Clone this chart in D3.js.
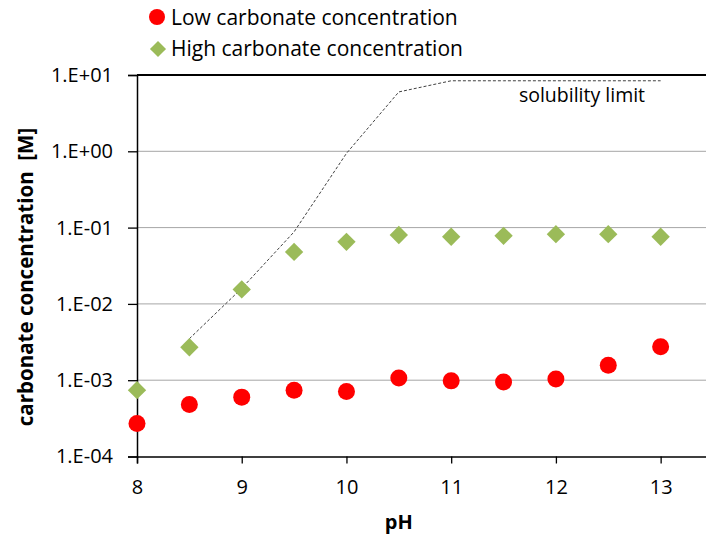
<!doctype html>
<html lang="en">
  <head>
    <meta charset="utf-8">
    <title>carbonate concentration vs pH</title>
    <script src="https://d3js.org/d3.v7.min.js"></script>
    <style>
      body { margin: 0; background: #fff; }
      svg { display: block; font-family: 'Open Sans', sans-serif; }
    </style>
  </head>
  <body>
    <div id="root"></div>
  </body>
  <script>

    //data:
    const pH = [8, 8.5, 9, 9.5, 10, 10.5, 11, 11.5, 12, 12.5, 13];
    const lowCarbonate = [2.7e-4, 4.8e-4, 6.0e-4, 7.4e-4, 7.1e-4, 1.07e-3, 9.8e-4, 9.5e-4, 1.04e-3, 1.57e-3, 2.75e-3];
    const highCarbonate = [7.4e-4, 2.7e-3, 1.55e-2, 4.8e-2, 6.5e-2, 8.0e-2, 7.6e-2, 7.8e-2, 8.2e-2, 8.2e-2, 7.6e-2];
    const solubilityPH = [8.5, 9, 9.5, 10, 10.5, 11, 11.5, 12, 12.5, 13];
    const solubilityLimit = [3.5e-3, 1.6e-2, 8.8e-2, 0.94, 6.0, 8.4, 8.4, 8.4, 8.4, 8.4];
    const xTicks = [8, 9, 10, 11, 12, 13];
    const yTicks = [1e1, 1e0, 1e-1, 1e-2, 1e-3, 1e-4];
    const yTickLabels = ["1.E+01", "1.E+00", "1.E-01", "1.E-02", "1.E-03", "1.E-04"];

    //constants:
    const width = 706;
    const height = 540;
    const plotLeft = 137, plotRight = 713, plotTop = 75, plotBottom = 456.5;
    const red = "#ff0000";
    const green = "#9bbb59";

    const svg = d3.select("#root")
      .append("svg")
      .attr("width", width)
      .attr("height", height);

    const x = d3.scaleLinear().domain([8, 13.5]).range([plotLeft, plotRight]);
    const y = d3.scaleLog().domain([1e-4, 10]).range([plotBottom, plotTop]);

    //gridlines
    svg.append("g")
      .selectAll("line")
      .data(yTicks.slice(1, -1))
      .enter()
      .append("line")
      .attr("x1", plotLeft).attr("x2", plotRight)
      .attr("y1", d => y(d)).attr("y2", d => y(d))
      .attr("stroke", "#a6a6a6")
      .attr("stroke-width", 1);

    // top line at 1E+01
    svg.append("line")
      .attr("x1", plotLeft).attr("x2", plotRight)
      .attr("y1", y(10)).attr("y2", y(10))
      .attr("stroke", "#000").attr("stroke-width", 2);

    //axes
    const xAxis = svg.append("g")
      .attr("transform", `translate(0,${plotBottom})`)
      .call(d3.axisBottom(x).tickValues(xTicks).tickSize(7).tickPadding(16).tickFormat(d3.format("d")));
    const yAxis = svg.append("g")
      .attr("transform", `translate(${plotLeft},0)`)
      .call(d3.axisLeft(y).tickValues(yTicks).tickSize(9).tickPadding(15)
        .tickFormat((d, i) => yTickLabels[i]));

    [xAxis, yAxis].forEach(a => {
      a.select(".domain").attr("stroke", "#000").attr("stroke-width", 1.5);
      a.selectAll(".tick line").attr("stroke", "#000").attr("stroke-width", 1.3);
      a.selectAll("text").attr("font-family", "'Open Sans', sans-serif")
        .attr("font-size", "20px").attr("fill", "#000");
    });

    //solubility line
    const line = d3.line()
      .x((d, i) => x(solubilityPH[i]))
      .y(d => y(d));
    svg.append("path")
      .datum(solubilityLimit)
      .attr("d", line)
      .attr("fill", "none")
      .attr("stroke", "#404040")
      .attr("stroke-width", 1)
      .attr("stroke-dasharray", "3,2");

    svg.append("text")
      .attr("x", 582)
      .attr("y", 102)
      .attr("text-anchor", "middle")
      .attr("font-size", "19.5px")
      .text("solubility limit");

    //markers
    svg.selectAll("circle.low")
      .data(lowCarbonate)
      .enter()
      .append("circle")
      .attr("class", "low")
      .attr("cx", (d, i) => x(pH[i]))
      .attr("cy", d => y(d))
      .attr("r", 8.5)
      .attr("fill", red);

    const diamond = d3.symbol().type(d3.symbolDiamond2).size(215);
    svg.selectAll("path.high")
      .data(highCarbonate)
      .enter()
      .append("path")
      .attr("class", "high")
      .attr("d", diamond)
      .attr("transform", (d, i) => `translate(${x(pH[i])},${y(d)})`)
      .attr("fill", green);

    //axis titles
    svg.append("text")
      .attr("x", x(10.5))
      .attr("y", 529)
      .attr("text-anchor", "middle")
      .attr("font-size", "20px")
      .attr("font-weight", "bold")
      .text("pH");

    svg.append("text")
      .attr("transform", "translate(33,277) rotate(-90)")
      .attr("text-anchor", "middle")
      .attr("font-size", "20.5px")
      .attr("font-weight", "bold")
      .attr("xml:space", "preserve")
      .text("carbonate concentration  [M]");

    //legend
    const legend = svg.append("g");
    legend.append("circle")
      .attr("cx", 157).attr("cy", 17).attr("r", 8)
      .attr("fill", red);
    legend.append("path")
      .attr("d", d3.symbol().type(d3.symbolDiamond2).size(165))
      .attr("transform", "translate(158,49)")
      .attr("fill", green);
    legend.append("text")
      .attr("x", 171).attr("y", 24.5)
      .attr("font-size", "21px")
      .text("Low carbonate concentration");
    legend.append("text")
      .attr("x", 171).attr("y", 56)
      .attr("font-size", "21px")
      .text("High carbonate concentration");

  </script>
</html>
